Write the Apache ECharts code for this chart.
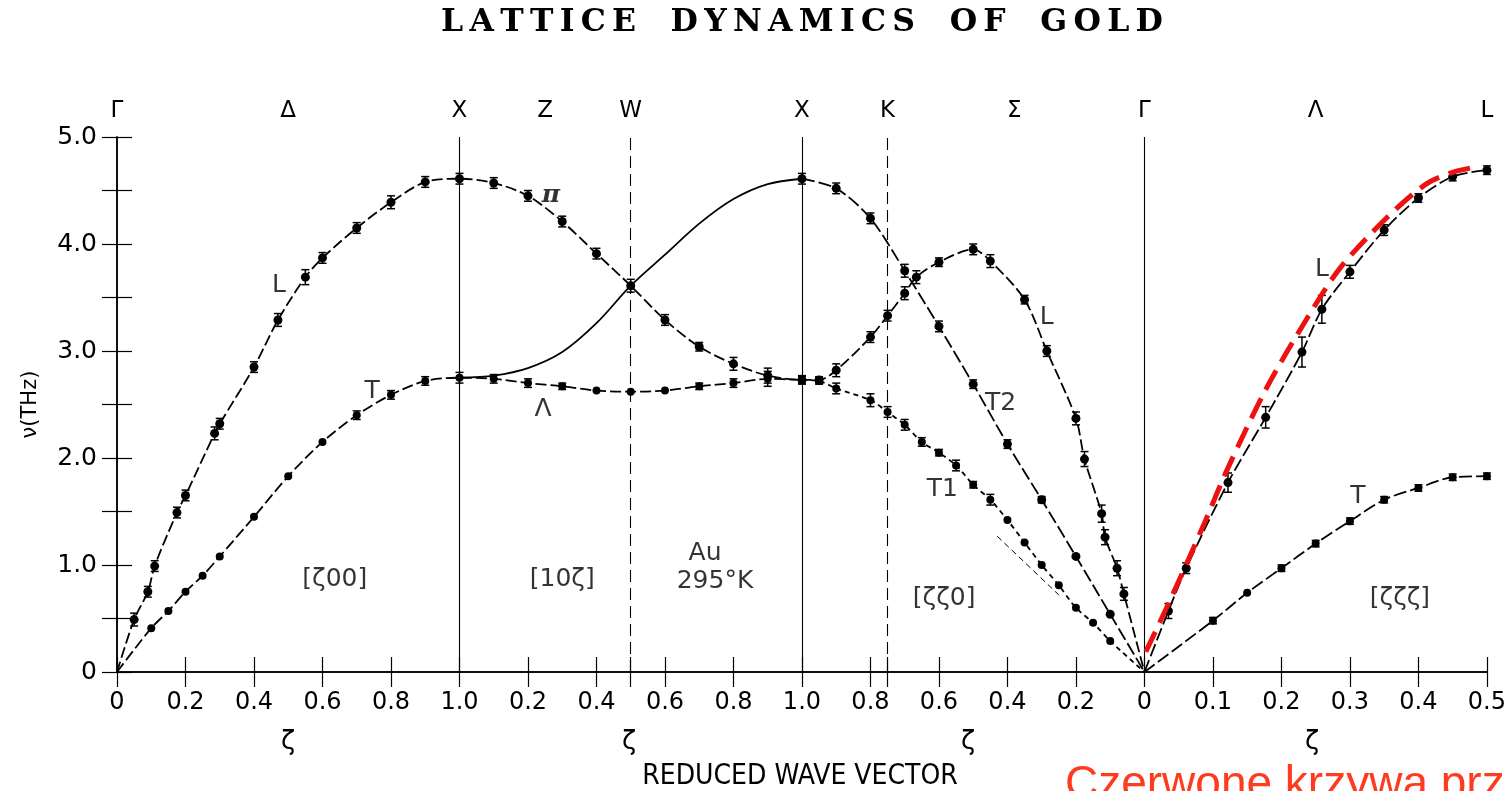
<!DOCTYPE html>
<html style="height: 100%">
<head>
<meta charset="utf-8">
<script src="https://cdn.jsdelivr.net/npm/echarts@6/dist/echarts.min.js"></script>
</head>
<body style="height: 100%; margin: 0; width: 100%; background: #fff;">
<div id="container" style="height: 791px; width: 1509px;"></div>
<script type="text/javascript">
// ---- data, [zeta, nu(THz), error] per segment ----
// [zeta 0 0]  Gamma -> X
var gxL = [[0.05,0.49,0.06],[0.09,0.75,0.05],[0.11,0.99,0.05],[0.175,1.49,0.05],[0.2,1.65,0.05],[0.285,2.23,0.06],
           [0.3,2.32,0.05],[0.4,2.85,0.05],[0.47,3.29,0.06],[0.55,3.69,0.07],[0.6,3.87,0.05],[0.7,4.15,0.05],
           [0.8,4.39,0.06],[0.9,4.58,0.05],[1.0,4.61,0.05]];
var gxT = [[0.1,0.41,0],[0.15,0.57,0],[0.2,0.75,0],[0.25,0.90,0],[0.3,1.08,0],[0.4,1.45,0],[0.5,1.83,0],
           [0.6,2.15,0],[0.7,2.40,0.04],[0.8,2.59,0.04],[0.9,2.72,0.04],[1.0,2.75,0.05]];
// [1 0 zeta]  X -> W -> X
var xwPi = [[0.1,4.57,0.05],[0.2,4.45,0.05],[0.3,4.21,0.05],[0.4,3.91,0.05],[0.5,3.61,0.06],
            [0.6,3.29,0.05],[0.7,3.04,0.04],[0.8,2.88,0.06],[0.9,2.77,0.07],[1.0,2.73,0.04]];
var xwLam = [[0.1,2.74,0.04],[0.2,2.70,0.04],[0.3,2.67,0.03],[0.4,2.63,0],[0.5,2.62,0],
             [0.6,2.63,0],[0.7,2.67,0.03],[0.8,2.70,0.04],[0.9,2.74,0.07],[1.0,2.73,0.03]];
var xwSolid = [[0,2.75],[0.1,2.77],[0.2,2.84],[0.3,2.99],[0.4,3.26],[0.5,3.61],
               [0.6,3.90],[0.7,4.19],[0.8,4.42],[0.9,4.56],[1.0,4.61]];
// [zeta zeta 0]  X -> K -> Gamma
var xgL = [[0.95,2.73,0.03],[0.9,2.82,0.06],[0.8,3.13,0.05],[0.75,3.33,0.05],[0.7,3.54,0.06],[0.666,3.69,0.06],
           [0.6,3.83,0.04],[0.5,3.95,0.05],[0.45,3.84,0.06],[0.35,3.48,0.04],[0.285,3.00,0.05],[0.2,2.37,0.06],
           [0.175,1.99,0.07],[0.125,1.48,0.08],[0.115,1.26,0.07],[0.08,0.97,0.07],[0.06,0.73,0.06]];
var xgT2 = [[1.0,4.61,0.05],[0.9,4.52,0.05],[0.8,4.24,0.05],[0.7,3.75,0.06],[0.6,3.23,0.05],[0.5,2.69,0.04],
            [0.4,2.13,0.04],[0.3,1.61,0.03],[0.2,1.08,0],[0.1,0.54,0]];
var xgT1 = [[0.95,2.72,0.03],[0.9,2.65,0.05],[0.8,2.54,0.06],[0.75,2.43,0.05],[0.7,2.31,0.05],[0.65,2.15,0.04],
            [0.6,2.05,0.03],[0.55,1.93,0.05],[0.5,1.75,0.03],[0.45,1.61,0.05],[0.4,1.42,0],[0.35,1.21,0],
            [0.3,1.00,0],[0.25,0.81,0],[0.2,0.60,0],[0.15,0.46,0],[0.1,0.29,0]];
var xgSlope = [[0.43,1.27],[0.25,0.72]];
// [zeta zeta zeta]  Gamma -> L
var glL = [[0.035,0.57,0.07],[0.061,0.97,0.05],[0.122,1.77,0.09],[0.177,2.38,0.1],[0.23,2.99,0.14],
           [0.259,3.39,0.13],[0.3,3.74,0.06],[0.35,4.13,0.05],[0.4,4.43,0.04],[0.45,4.63,0.04],[0.5,4.69,0.04]];
var glT = [[0.1,0.48,0.03],[0.15,0.74,0],[0.2,0.97,0.03],[0.25,1.20,0.03],[0.3,1.41,0.03],[0.35,1.61,0.03],
           [0.4,1.72,0.03],[0.45,1.82,0.03],[0.5,1.83,0.03]];
var glRed = [[0.002,0.19],[0.036,0.65],[0.0875,1.39],[0.12,1.88],[0.178,2.65],[0.236,3.29],[0.285,3.77],
             [0.353,4.24],[0.411,4.56],[0.45,4.67],[0.484,4.72]];

// axis ticks (path coordinate s: 0..4)
var bottomTicks = [0,0.2,0.4,0.6,0.8,1,1.2,1.4,1.5,1.6,1.8,2,2.2,2.25,2.4,2.6,2.8,3,3.2,3.4,3.6,3.8,4];
var bottomLabels = [0,0.2,0.4,0.6,0.8,1,1.2,1.4,1.6,1.8,2,2.2,2.4,2.6,2.8,3,3.2,3.4,3.6,3.8,4];
var topTicks = [0,0.5,1,1.25,1.5,2,2.25,2.62,3,3.5,4];
var topNames = ['Γ','Δ','X','Z','W','X','K','Σ','Γ','Λ','L'];
var symLines = [1, 1.5, 2, 2.25, 3];

// annotation texts [s, nu, text]
var notes = [[0.473,3.61,'L'],[0.745,2.62,'T'],[1.267,4.45,'π'],[1.244,2.45,'Λ'],[1.717,1.11,'Au'],
             [1.746,0.85,'295°K'],[0.636,0.86,'[ζ00]'],[1.30,0.86,'[10ζ]'],[2.415,0.69,'[ζζ0]'],
             [2.715,3.31,'L'],[2.58,2.51,'T2'],[2.41,1.71,'T1'],[3.518,3.76,'L'],[3.623,1.64,'T'],[3.746,0.69,'[ζζζ]']];

// ---- mapping zeta -> path coordinate ----
function sGX(z) { return z; }
function sXW(z) { return 1 + z; }
function sXG(z) { return 3 - z; }
function sGL(z) { return 3 + 2 * z; }
function sToZeta(s) {
    var z;
    if (s <= 1) z = s; else if (s <= 2) z = s - 1; else if (s <= 3) z = 3 - s; else z = (s - 3) / 2;
    return Math.round(z * 100) / 100;
}
function pts(arr, f) { return arr.map(function (p) { return {value: [f(p[0]), p[1]]}; }); }
function anchor(s, v) { return {value: [s, v], symbol: 'none'}; }
function errs(arr, f) {
    return arr.filter(function (p) { return p[2] > 0; })
              .map(function (p) { return [f(p[0]), p[1] - p[2], p[1] + p[2]]; });
}

var FONT = "'DejaVu Sans', sans-serif";
var dom = document.getElementById('container');
var myChart = echarts.init(dom);

function branch(data, dash, symSize, extra) {
    var s = {
        type: 'line', data: data, smooth: 0.3,
        symbol: 'circle', symbolSize: symSize, showSymbol: true,
        itemStyle: {color: '#000'},
        lineStyle: {color: '#000', width: 1.8, type: dash},
        z: 3, silent: true
    };
    for (var k in extra) s[k] = extra[k];
    return s;
}

var errData = [].concat(errs(gxL, sGX), errs(gxT, sGX), errs(xwPi, sXW), errs(xwLam, sXW),
    errs(xgL, sXG), errs(xgT2, sXG), errs(xgT1, sXG), errs(glL, sGL), errs(glT, sGL));

option = {
    animation: false,
    backgroundColor: '#fff',
    grid: {left: 117, right: 22, top: 137, bottom: 119, show: false},
    xAxis: [{
        type: 'value', min: 0, max: 4, position: 'bottom',
        axisLine: {lineStyle: {color: '#000', width: 1.5}},
        axisTick: {inside: true, length: 15, customValues: bottomTicks, lineStyle: {color: '#000', width: 1.2}},
        axisLabel: {customValues: bottomLabels, margin: 19, color: '#000', fontSize: 24, fontFamily: FONT,
            formatter: function (v) { var z = sToZeta(v); return z === 0 ? '0' : z.toFixed(1); }},
        splitLine: {show: false}
    }, {
        type: 'value', min: 0, max: 4, position: 'top',
        axisLine: {lineStyle: {color: '#000', width: 1.5}},
        axisTick: {inside: true, length: 15, customValues: bottomTicks, lineStyle: {color: '#000', width: 1.2}},
        axisLabel: {customValues: topTicks, margin: 14, color: '#000', fontSize: 23, fontFamily: FONT,
            formatter: function (v) {
                for (var i = 0; i < topTicks.length; i++) if (Math.abs(topTicks[i] - v) < 1e-6) return topNames[i];
                return '';
            }},
        splitLine: {show: false}
    }],
    yAxis: [{
        type: 'value', min: 0, max: 5, interval: 0.5, position: 'left',
        name: 'ν(THz)', nameLocation: 'middle', nameGap: 76,
        nameTextStyle: {color: '#000', fontSize: 21, fontFamily: FONT},
        axisLine: {show: true, lineStyle: {color: '#000', width: 1.5}},
        axisTick: {inside: true, length: 15, lineStyle: {color: '#000', width: 1.2}},
        axisLabel: {margin: 20, color: '#000', fontSize: 25, fontFamily: FONT,
            formatter: function (v) { return v % 1 === 0 ? (v === 0 ? '0' : v.toFixed(1)) : ''; }},
        splitLine: {show: false}
    }, {
        type: 'value', min: 0, max: 5, interval: 0.5, position: 'right',
        axisLine: {show: true, lineStyle: {color: '#000', width: 1.5}},
        axisTick: {inside: true, length: 15, lineStyle: {color: '#000', width: 1.2}},
        axisLabel: {show: false},
        splitLine: {show: false}
    }],
    series: [
        // L -> pi -> L (zeta zeta 0)
        branch([anchor(0, 0)].concat(pts(gxL, sGX), pts(xwPi, sXW), pts(xgL, sXG), [anchor(3, 0)]), [11, 4], 9, {
            markLine: {
                silent: true, symbol: 'none', label: {show: false},
                data: symLines.map(function (s) {
                    var dashed = (s === 1.5 || s === 2.25);
                    return {xAxis: s, lineStyle: {color: '#000', width: 1.1, type: dashed ? [12, 6] : 'solid'}};
                })
            }
        }),
        // T -> Lambda
        branch([anchor(0, 0)].concat(pts(gxT, sGX), pts(xwLam, sXW)), [11, 4], 8),
        // T1
        branch([anchor(2, 2.73)].concat(pts(xgT1, sXG), [anchor(3, 0)]), [5, 4], 8),
        // solid branch X -> W -> X
        branch(pts(xwSolid, sXW), 'solid', 0, {showSymbol: false, symbol: 'none'}),
        // T2
        branch(pts(xgT2, sXG).concat([anchor(3, 0)]), [13, 4], 9),
        // initial slope line
        branch(pts(xgSlope, sXG), [6, 4], 0, {symbol: 'none', smooth: false, lineStyle: {color: '#000', width: 1, type: [6, 4]}}),
        // [zeta zeta zeta]
        branch([anchor(3, 0)].concat(pts(glL, sGL)), [13, 4], 9),
        branch([anchor(3, 0)].concat(pts(glT, sGL)), [13, 4], 8),
        // red curve
        branch(pts(glRed, sGL), [22, 10], 0, {symbol: 'none', z: 6, lineStyle: {color: '#ee1111', width: 5, type: [22, 10]}}),
        // error bars
        {
            type: 'custom', data: errData, z: 2, silent: true,
            encode: {x: 0, y: [1, 2]},
            renderItem: function (params, api) {
                var lo = api.coord([api.value(0), api.value(1)]);
                var hi = api.coord([api.value(0), api.value(2)]);
                var st = {stroke: '#000', lineWidth: 1.5};
                return {type: 'group', children: [
                    {type: 'line', shape: {x1: lo[0], y1: lo[1], x2: hi[0], y2: hi[1]}, style: st},
                    {type: 'line', shape: {x1: lo[0] - 4, y1: lo[1], x2: lo[0] + 4, y2: lo[1]}, style: st},
                    {type: 'line', shape: {x1: hi[0] - 4, y1: hi[1], x2: hi[0] + 4, y2: hi[1]}, style: st}
                ]};
            }
        },
        // text annotations inside the plot
        {
            type: 'scatter', symbolSize: 1, silent: true, z: 7,
            itemStyle: {color: 'rgba(0,0,0,0)'},
            data: notes.map(function (n) {
                var d = {value: [n[0], n[1]], name: n[2]};
                if (n[2] === 'π') d.label = {fontStyle: 'italic', fontFamily: 'DejaVu Serif', fontWeight: 'bold'};
                return d;
            }),
            label: {show: true, position: 'inside', formatter: '{b}', color: '#000', fontSize: 25, fontFamily: FONT}
        }
    ],
    graphic: [
        {type: 'text', x: 802, y: 23, style: {
            text: 'L\u2009A\u2009T\u2009T\u2009I\u2009C\u2009E\u2009  \u2009D\u2009Y\u2009N\u2009A\u2009M\u2009I\u2009C\u2009S\u2009  \u2009O\u2009F\u2009  \u2009G\u2009O\u2009L\u2009D',
            fontFamily: "'DejaVu Serif', serif", fontWeight: 'bold', fontSize: 31.5, fill: '#000',
            textAlign: 'center', textVerticalAlign: 'middle'}},
        {type: 'text', x: 288, y: 742, style: {text: 'ζ', fontFamily: FONT, fontSize: 26, fill: '#000', textAlign: 'center', textVerticalAlign: 'middle'}},
        {type: 'text', x: 629, y: 742, style: {text: 'ζ', fontFamily: FONT, fontSize: 26, fill: '#000', textAlign: 'center', textVerticalAlign: 'middle'}},
        {type: 'text', x: 968, y: 742, style: {text: 'ζ', fontFamily: FONT, fontSize: 26, fill: '#000', textAlign: 'center', textVerticalAlign: 'middle'}},
        {type: 'text', x: 1312, y: 742, style: {text: 'ζ', fontFamily: FONT, fontSize: 26, fill: '#000', textAlign: 'center', textVerticalAlign: 'middle'}},
        {type: 'text', x: 800, y: 777, style: {text: 'REDUCED WAVE VECTOR', fontFamily: "'DejaVu Sans Condensed', 'DejaVu Sans', sans-serif", fontSize: 28, fill: '#000', textAlign: 'center', textVerticalAlign: 'middle'}},
        {type: 'text', x: 1065, y: 808, style: {text: 'Czerwone krzywa prz', fontFamily: "'Liberation Sans', Arial, sans-serif", fontSize: 46, fill: '#ff3b1f', textAlign: 'left', textVerticalAlign: 'bottom'}}
    ]
};

if (option && typeof option === "object") {
    myChart.setOption(option, true);
}
</script>
</body>
</html>
